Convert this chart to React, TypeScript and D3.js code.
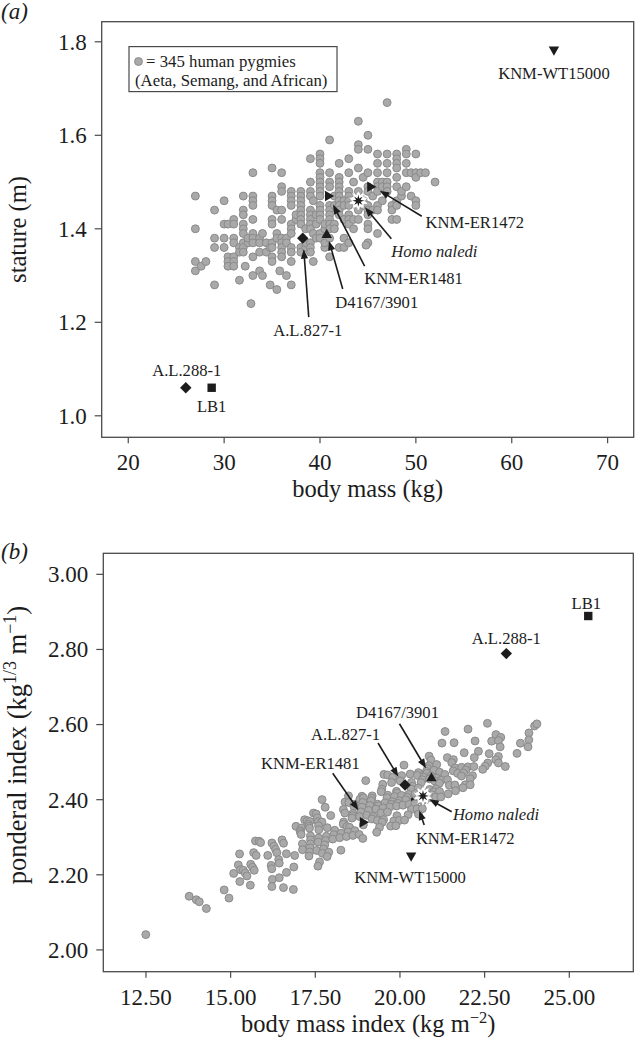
import React, { useEffect } from 'react';
import * as d3 from 'd3';

// ---------------- data ----------------
// 345 human pygmies: [body mass (kg), stature (m)]
const pygmyMassStature: [number, number][] = [
  [27, 1.47], [27, 1.40], [27, 1.33], [27, 1.31], [27.6, 1.32], [28.1, 1.33],
  [29, 1.44], [29, 1.38], [29, 1.36], [29, 1.28],
  [30, 1.46], [30, 1.41], [30, 1.38], [30, 1.36],
  [30.4, 1.41], [30.4, 1.34], [30.4, 1.33], [30.4, 1.32],
  [31, 1.42], [31, 1.41], [31, 1.38], [31, 1.37], [31, 1.34], [31, 1.33], [31, 1.32],
  [31.6, 1.29], [31.6, 1.36], [31.6, 1.35],
  [32, 1.47], [32, 1.44], [32, 1.43], [32, 1.41], [32, 1.40], [32, 1.39], [32, 1.37], [32, 1.36], [32, 1.35], [32.2, 1.32],
  [32.5, 1.37], [32.5, 1.38], [32.8, 1.24],
  [33, 1.52], [33, 1.47], [33, 1.46], [33, 1.45], [33, 1.42], [33, 1.39], [33, 1.38], [33, 1.37], [33, 1.34], [33, 1.30],
  [33.7, 1.38], [33.7, 1.37], [33.7, 1.35], [33.7, 1.31],
  [34, 1.39], [34, 1.30], [34.4, 1.37], [34.4, 1.35], [34.8, 1.28], [34.8, 1.36],
  [35, 1.53], [35, 1.47], [35, 1.46], [35, 1.45], [35, 1.42], [35, 1.41], [35, 1.37], [35, 1.36], [35, 1.34], [35, 1.33],
  [35.5, 1.27], [35.5, 1.39], [35.5, 1.38], [35.5, 1.44], [35.8, 1.31],
  [36, 1.52], [36, 1.49], [36, 1.48], [36, 1.44], [36, 1.42], [36, 1.38], [36, 1.37], [36, 1.36], [36, 1.35], [36, 1.34],
  [36.5, 1.30], [36.5, 1.38], [36.5, 1.37],
  [37, 1.48], [37, 1.47], [37, 1.46], [37, 1.45], [37, 1.41], [37, 1.40], [37, 1.39], [37, 1.36], [37, 1.35], [37, 1.33], [37, 1.28],
  [37.5, 1.42], [37.5, 1.43],
  [38, 1.48], [38, 1.47], [38, 1.46], [38, 1.45], [38, 1.44], [38, 1.43], [38, 1.42], [38, 1.41], [38, 1.36], [38, 1.35],
  [38.5, 1.36], [38.5, 1.37], [38.5, 1.40],
  [39, 1.55], [39, 1.50], [39, 1.48], [39, 1.47], [39, 1.44], [39, 1.43], [39, 1.42], [39, 1.41], [39, 1.40], [39, 1.37], [39, 1.36], [39, 1.35],
  [39.3, 1.33], [39.3, 1.39], [39.3, 1.46], [39.6, 1.38], [39.6, 1.41], [39.6, 1.43],
  [40, 1.56], [40, 1.55], [40, 1.54], [40, 1.52], [40, 1.51], [40, 1.50], [40, 1.49], [40, 1.48], [40, 1.47], [40, 1.45], [40, 1.44], [40, 1.43], [40, 1.42], [40, 1.39], [40, 1.38],
  [40.5, 1.40], [40.5, 1.41], [40.5, 1.36], [40.5, 1.37],
  [41, 1.59], [41, 1.52], [41, 1.50], [41, 1.49], [41, 1.45], [41, 1.44], [41, 1.43], [41, 1.42], [41, 1.41], [41, 1.40], [41, 1.38], [41, 1.34],
  [41.5, 1.47], [41.5, 1.45], [41.5, 1.41], [41.5, 1.40],
  [42, 1.54], [42, 1.51], [42, 1.50], [42, 1.49], [42, 1.48], [42, 1.47], [42, 1.46], [42, 1.45], [42, 1.44], [42, 1.43], [42, 1.36],
  [42.5, 1.38], [42.5, 1.36], [42.5, 1.46], [42.5, 1.45], [42.5, 1.42],
  [43, 1.55], [43, 1.52], [43, 1.48], [43, 1.47], [43, 1.46], [43, 1.45], [43, 1.43], [43, 1.42], [43, 1.41], [43, 1.37],
  [43.5, 1.40], [43.5, 1.42], [43.5, 1.50],
  [44, 1.63], [44, 1.58], [44, 1.57], [44, 1.53], [44, 1.48], [44, 1.44], [44, 1.42],
  [44.5, 1.51], [44.5, 1.46], [44.5, 1.45],
  [45, 1.60], [45, 1.57], [45, 1.52], [45, 1.49], [45, 1.48], [45, 1.45], [45, 1.44], [45, 1.43], [45, 1.41], [45, 1.40], [45, 1.37], [44.8, 1.365],
  [45.5, 1.47], [45.5, 1.44],
  [46, 1.56], [46, 1.54], [46, 1.52], [46, 1.50], [46, 1.49], [46, 1.48], [46, 1.45], [46, 1.44], [46, 1.39],
  [46.5, 1.50], [46.5, 1.49], [46.5, 1.46],
  [47, 1.67], [47, 1.56], [47, 1.54], [47, 1.52], [47, 1.50], [47, 1.49], [47, 1.48],
  [47.5, 1.45], [47.5, 1.44], [47.5, 1.42],
  [48, 1.56], [48, 1.55], [48, 1.54], [48, 1.53], [48, 1.51], [48, 1.49], [48, 1.46], [48, 1.45], [48, 1.42],
  [48.5, 1.47], [48.5, 1.48],
  [49, 1.57], [49, 1.56], [49, 1.54], [49, 1.52], [49, 1.49],
  [49.5, 1.52], [49.5, 1.47],
  [50, 1.56], [50, 1.52], [50, 1.51], [50, 1.46], [50, 1.45],
  [50.5, 1.52], [51, 1.52], [52, 1.50],
];

// Panel (b) indices are defined from the same individuals:
// body mass index = mass / stature^2 ; ponderal index = mass^(1/3) / stature
const pygmyBmiPonderal: [number, number][] = pygmyMassStature.map(([m, h]) => [m / (h * h), Math.cbrt(m) / h]);

const fossilNames = ['KNM-WT15000', 'A.L.288-1', 'LB1', 'A.L.827-1', 'D4167/3901', 'KNM-ER1481', 'Homo naledi', 'KNM-ER1472'];
const fossilShapes = ['triangleDown', 'diamond', 'square', 'diamond', 'triangleUp', 'triangleRight', 'star', 'triangleRight'];
const fossilMassA = [64.4, 26.0, 28.7, 38.2, 40.7, 41.0, 44.0, 45.4];
const fossilStatureA = [1.78, 1.06, 1.06, 1.38, 1.39, 1.47, 1.46, 1.49];
const fossilBmiB = [20.33, 23.14, 25.56, 20.15, 20.93, 18.95, 20.68, 20.45];
const fossilPonderalB = [2.247, 2.789, 2.889, 2.439, 2.461, 2.34, 2.41, 2.395];

const xTicksA = [20, 30, 40, 50, 60, 70];
const yTicksA = [1.0, 1.2, 1.4, 1.6, 1.8];
const xTicksB = [12.5, 15, 17.5, 20, 22.5, 25];
const yTicksB = [2.0, 2.2, 2.4, 2.6, 2.8, 3.0];

const legendText = ['= 345 human pygmies', '(Aeta, Semang, and African)'];

// ---------------- layout (pixels) ----------------
type Ann = { label: [number, number]; tail?: [number, number]; head?: [number, number] };
const annA: Ann[] = [
  { label: [0, 27.6] },
  { label: [1, -12] },
  { label: [0, 24] },
  { label: [5, 98], tail: [6, 79], head: [1, 11] },
  { label: [50, 75], tail: [16, 55.5], head: [2.3, 7.5] },
  { label: [84, 88], tail: [35, 70], head: [3.4, 8.5] },
  { label: [76, 56], tail: [33, 38], head: [6.6, 6.5] },
  { label: [103, 41], tail: [50, 29.5], head: [8, 4] },
];
const annB: Ann[] = [
  { label: [-1, 25.7] },
  { label: [0, -9.5] },
  { label: [-2, -7.5] },
  { label: [-59.5, -45], tail: [-27, -42], head: [-6.7, -8.3] },
  { label: [-34, -58.6], tail: [-32, -53], head: [-5.5, -8.5] },
  { label: [-54, -53.4], tail: [-31.7, -49], head: [-6, -12] },
  { label: [73, 23.6], tail: [28.7, 15.8], head: [6.3, 3.4] },
  { label: [50, 42], tail: [9, 23.5], head: [4, 9] },
];

const FONT = "'Liberation Serif', 'Times New Roman', Times, serif";
const INK = '#1c1c1c';
const FRAME = '#4a4a4a';
const DOT_FILL = '#a9a9a9';
const DOT_STROKE = '#8a8a8a';

const xA = d3.scaleLinear().domain([17.23, 72.72]).range([101.7, 633.7]);
const yA = d3.scaleLinear().domain([0.954, 1.843]).range([437.3, 21.7]);
const xB = d3.scaleLinear().domain([11.24, 26.89]).range([103.3, 633.3]);
const yB = d3.scaleLinear().domain([1.942, 3.056]).range([971.7, 553.3]);

function starPoints(n: number, outer: number, inner: number): string {
  return d3
    .range(n * 2)
    .map((i) => {
      const r = i % 2 === 0 ? outer : inner;
      const a = (Math.PI * i) / n - Math.PI / 2;
      return `${(r * Math.cos(a)).toFixed(2)},${(r * Math.sin(a)).toFixed(2)}`;
    })
    .join(' ');
}

function Marker({ shape, x, y }: { shape: string; x: number; y: number }) {
  const t = `translate(${x},${y})`;
  if (shape === 'diamond') {
    const r = 5.7;
    return <path transform={t} d={`M0,${-r}L${r},0L0,${r}L${-r},0Z`} fill={INK} />;
  }
  if (shape === 'square') {
    const s = 4.2;
    return <path transform={t} d={`M${-s},${-s}H${s}V${s}H${-s}Z`} fill={INK} />;
  }
  const w = 5.2;
  const h = 4.6;
  if (shape === 'triangleUp') return <path transform={t} d={`M0,${-h}L${w},${h}L${-w},${h}Z`} fill={INK} />;
  if (shape === 'triangleDown') return <path transform={t} d={`M0,${h}L${w},${-h}L${-w},${-h}Z`} fill={INK} />;
  if (shape === 'triangleRight') return <path transform={t} d={`M${h},0L${-h},${-w}L${-h},${w}Z`} fill={INK} />;
  // star with white halo
  return (
    <g transform={t}>
      <polygon points={starPoints(10, 10, 6.5)} fill="#fff" stroke="#9a9a9a" strokeWidth={0.7} strokeDasharray="2 1.5" />
      <polygon points={starPoints(8, 6, 2.4)} fill={INK} />
    </g>
  );
}

function Arrow({ x, y, tail, head }: { x: number; y: number; tail: [number, number]; head: [number, number] }) {
  const tx = x + tail[0];
  const ty = y + tail[1];
  const hx = x + head[0];
  const hy = y + head[1];
  const ang = Math.atan2(hy - ty, hx - tx);
  const L = 9.5;
  const W = 3.6;
  const bx = hx - L * Math.cos(ang);
  const by = hy - L * Math.sin(ang);
  const px = -Math.sin(ang) * W;
  const py = Math.cos(ang) * W;
  return (
    <g>
      <line x1={tx} y1={ty} x2={bx + Math.cos(ang)} y2={by + Math.sin(ang)} stroke={INK} strokeWidth={1.6} />
      <path d={`M${hx},${hy}L${bx + px},${by + py}L${bx - px},${by - py}Z`} fill={INK} />
    </g>
  );
}

type PanelProps = {
  tag: string;
  tagY: number;
  x: d3.ScaleLinear<number, number>;
  y: d3.ScaleLinear<number, number>;
  xTicks: number[];
  yTicks: number[];
  xFmt: (v: number) => string;
  yFmt: (v: number) => string;
  xTitle: React.ReactNode;
  yTitle: React.ReactNode;
  yTitleCenter: number;
  yTitleSize: number;
  points: [number, number][];
  fx: number[];
  fy: number[];
  ann: Ann[];
  underIdx: number[];
  legend?: boolean;
};

function Panel(p: PanelProps) {
  const [x0, x1] = p.x.range();
  const [y1, y0] = p.y.range();
  const fontTick = 23;
  return (
    <g fontFamily={FONT} fill={INK}>
      <text x={1} y={p.tagY} fontSize={23} fontStyle="italic">
        {p.tag}
      </text>
      {p.underIdx.map((i) => (
        <Marker key={'u' + i} shape={fossilShapes[i]} x={p.x(p.fx[i])} y={p.y(p.fy[i])} />
      ))}
      {p.points.map(([a, b], i) => (
        <circle key={i} cx={p.x(a)} cy={p.y(b)} r={3.95} fill={DOT_FILL} stroke={DOT_STROKE} strokeWidth={1} />
      ))}
      {fossilNames.map((name, i) => {
        const mx = p.x(p.fx[i]);
        const my = p.y(p.fy[i]);
        const an = p.ann[i];
        return (
          <g key={name}>
            {p.underIdx.includes(i) ? null : <Marker shape={fossilShapes[i]} x={mx} y={my} />}
            {an.tail && an.head ? <Arrow x={mx} y={my} tail={an.tail} head={an.head} /> : null}
            <text
              x={mx + an.label[0]}
              y={my + an.label[1]}
              fontSize={16.6}
              textAnchor="middle"
              fontStyle={name === 'Homo naledi' ? 'italic' : 'normal'}
            >
              {name}
            </text>
          </g>
        );
      })}
      <rect x={x0} y={y0} width={x1 - x0} height={y1 - y0} fill="none" stroke={FRAME} strokeWidth={1.3} />
      {p.xTicks.map((t) => (
        <g key={'xt' + t}>
          <line x1={p.x(t)} x2={p.x(t)} y1={y1} y2={y1 + 6} stroke={FRAME} strokeWidth={1.2} />
          <text x={p.x(t)} y={y1 + 33} fontSize={fontTick} textAnchor="middle">
            {p.xFmt(t)}
          </text>
        </g>
      ))}
      {p.yTicks.map((t) => (
        <g key={'yt' + t}>
          <line x1={x0 - 7} x2={x0} y1={p.y(t)} y2={p.y(t)} stroke={FRAME} strokeWidth={1.2} />
          <text x={x0 - 15} y={p.y(t)} dy="0.34em" fontSize={fontTick} textAnchor="end">
            {p.yFmt(t)}
          </text>
        </g>
      ))}
      <text x={(x0 + x1) / 2} y={y1 + 60} fontSize={24.5} textAnchor="middle">
        {p.xTitle}
      </text>
      <text transform={`translate(26,${p.yTitleCenter}) rotate(-90)`} fontSize={p.yTitleSize} textAnchor="middle">
        {p.yTitle}
      </text>
      {p.legend ? (
        <g>
          <rect x={129} y={46.6} width={208} height={45} fill="#fff" stroke={FRAME} strokeWidth={1.2} />
          <circle cx={138.5} cy={61.5} r={3.95} fill={DOT_FILL} stroke={DOT_STROKE} strokeWidth={1} />
          <text x={146} y={67} fontSize={16.8}>
            {legendText[0]}
          </text>
          <text x={135} y={86.3} fontSize={16.8}>
            {legendText[1]}
          </text>
        </g>
      ) : null}
    </g>
  );
}

export default function App() {
  useEffect(() => {
    document.body.style.margin = '0';
  }, []);
  const sup = (s: string, size: number, up: number) => (
    <tspan dy={-up} fontSize={size}>
      {s}
    </tspan>
  );
  return (
    <svg width={636} height={1040} style={{ position: 'absolute', left: 0, top: 0, background: '#fff' }}>
      <rect width={636} height={1040} fill="#fff" />
      <Panel
        tag="(a)"
        tagY={19}
        x={xA}
        y={yA}
        xTicks={xTicksA}
        yTicks={yTicksA}
        xFmt={(v) => d3.format('d')(v)}
        yFmt={(v) => d3.format('.1f')(v)}
        xTitle="body mass (kg)"
        yTitle="stature (m)"
        yTitleCenter={229.5}
        yTitleSize={24.5}
        points={pygmyMassStature}
        fx={fossilMassA}
        fy={fossilStatureA}
        ann={annA}
        underIdx={[]}
        legend
      />
      <Panel
        tag="(b)"
        tagY={559}
        x={xB}
        y={yB}
        xTicks={xTicksB}
        yTicks={yTicksB}
        xFmt={(v) => d3.format('.2f')(v)}
        yFmt={(v) => d3.format('.2f')(v)}
        xTitle={
          <>
            body mass index (kg m{sup('\u22122', 16.5, 9)}
            <tspan dy={9}>)</tspan>
          </>
        }
        yTitle={
          <>
            ponderal index (kg{sup('1/3', 18, 10)}
            <tspan dy={10}> m</tspan>
            {sup('\u22121', 18, 10)}
            <tspan dy={10}>)</tspan>
          </>
        }
        yTitleCenter={745}
        yTitleSize={26.5}
        points={pygmyBmiPonderal}
        fx={fossilBmiB}
        fy={fossilPonderalB}
        ann={annB}
        underIdx={[7]}
      />
    </svg>
  );
}
